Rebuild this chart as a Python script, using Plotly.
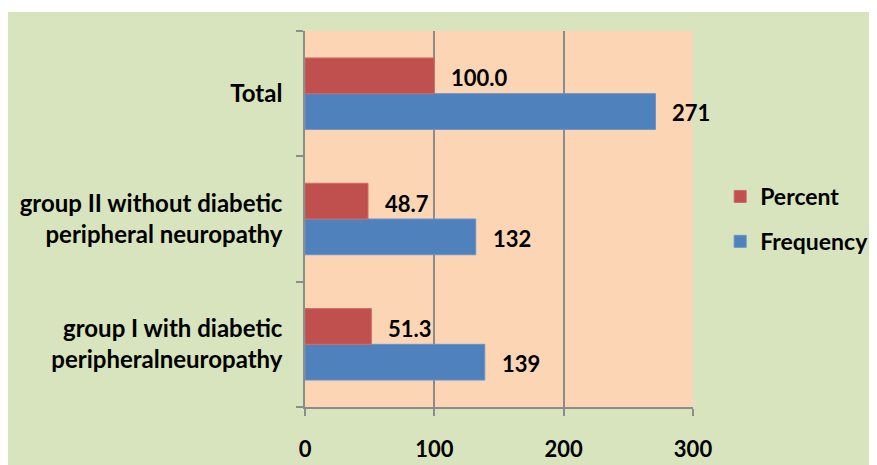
import plotly.graph_objects as go

categories = ["group I with diabetic<br>peripheralneuropathy",
              "group II without diabetic<br>peripheral neuropathy",
              "Total"]
percent = [51.3, 48.7, 100.0]
frequency = [139, 132, 271]
x_ticks = [0, 100, 200, 300]

# the page body adds an 8px offset; margins are set in figure pixels
W, H = 877, 457
ml, mr, mt, mb = 297, 192, 23, 58
pw, ph = W - ml - mr, H - mt - mb

FONT = "Lato"
RED = "#C0504D"
BLUE = "#4F81BD"
GREEN = "#D7E4BD"
PEACH = "#FCD5B5"
GRID = "#8C8C8C"
BOLD_L = dict(family=FONT, size=24, color="black", weight="bold")
BOLD_LG = dict(family=FONT, size=23, color="black", weight="bold")
BOLD_N = dict(family=FONT, size=22, color="black", weight="bold")

fig = go.Figure()
fig.add_trace(go.Bar(y=categories, x=frequency, orientation="h", name="Frequency",
                     marker=dict(color=BLUE, line=dict(color="#6A93C8", width=1)),
                     legendgroup="f", legendrank=2))
fig.add_trace(go.Bar(y=categories, x=percent, orientation="h", name="Percent",
                     marker=dict(color=RED, line=dict(color="#D06A66", width=1)),
                     legendgroup="p", legendrank=1))

# data labels
for i, c in enumerate(categories):
    fig.add_annotation(x=percent[i], y=c, text=f"{percent[i]:.1f}", showarrow=False,
                       xanchor="left", xshift=15, yshift=16, font=BOLD_N)
    fig.add_annotation(x=frequency[i], y=c, text=f"{frequency[i]}", showarrow=False,
                       xanchor="left", xshift=15, yshift=-19, font=BOLD_N)

# thin white strip at the top of the picture
fig.add_shape(type="rect", xref="paper", yref="paper",
              x0=-ml / pw - 0.01, x1=1 + mr / pw + 0.01,
              y0=1 + (mt - 4) / ph, y1=1 + mt / ph + 0.01,
              fillcolor="white", line=dict(width=0), layer="below")

fig.update_layout(
    width=W, height=H,
    margin=dict(l=ml, r=mr, t=mt, b=mb, autoexpand=False),
    paper_bgcolor=GREEN, plot_bgcolor=PEACH,
    barmode="group", bargap=0.43, bargroupgap=0,
    font=dict(family=FONT, size=24, color="black"),
    legend=dict(x=1.07, y=0.5, xanchor="left", yanchor="middle",
                traceorder="grouped", tracegroupgap=12,
                font=BOLD_LG, bgcolor="rgba(0,0,0,0)"),
    xaxis=dict(range=[0, 300], tickvals=x_ticks, ticks="outside", ticklen=7,
               tickcolor=GRID, tickwidth=1.5, automargin=False,
               showline=True, linecolor=GRID, linewidth=1.5,
               showgrid=True, gridcolor=GRID, gridwidth=1.5, zeroline=False,
               ticklabelstandoff=15, tickfont=BOLD_N),
    yaxis=dict(type="category", categoryorder="array", categoryarray=categories,
               ticks="outside", ticklen=7, tickcolor=GRID, tickwidth=1.5,
               tickson="boundaries", automargin=False,
               showline=True, linecolor=GRID, linewidth=1.5, showgrid=False,
               ticklabelstandoff=16, tickfont=BOLD_L),
)

fig.write_html("out.html")
